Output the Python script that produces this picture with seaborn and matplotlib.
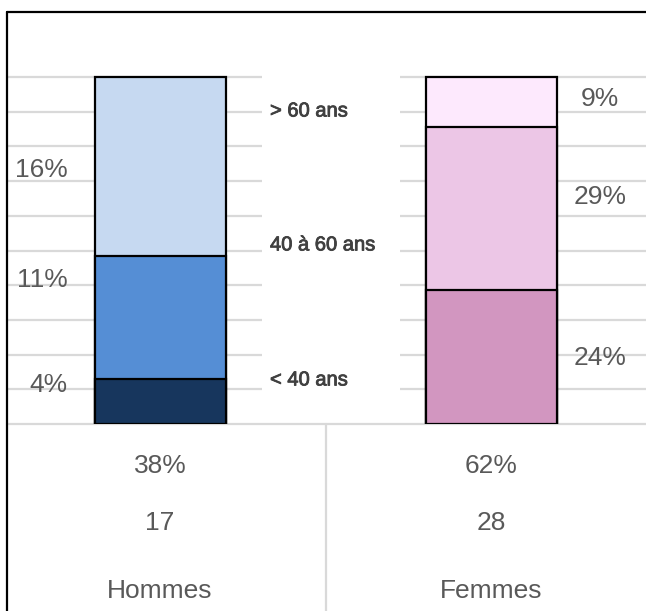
import matplotlib
matplotlib.use("Agg")
import matplotlib.pyplot as plt
import seaborn as sns
import numpy as np
import pandas as pd
from matplotlib.lines import Line2D
from matplotlib.patches import Rectangle
import matplotlib.patheffects as pe

# ---------------- data ----------------
categories = ["Hommes", "Femmes"]
age_groups = ["< 40 ans", "40 à 60 ans", "> 60 ans"]
hommes_pct = [4, 11, 16]        # bottom -> top
femmes_pct = [24, 29, 9]        # bottom -> top
total_pct = ["38%", "62%"]
counts = ["17", "28"]

colors_hommes = ["#17365D", "#558ED5", "#C6D9F1"]
colors_femmes = ["#D296C0", "#ECC6E6", "#FDE9FD"]

sns.set_theme(style="white")
plt.rcParams["font.family"] = ["Liberation Sans", "DejaVu Sans"]

W, H = 646, 611
fig = plt.figure(figsize=(W / 100, H / 100), dpi=100)

# axes geometry (pixels)
ax_left_px, ax_top_px, ax_base_px = 7, 12, 424
px_per_pct = 3.47
ax = fig.add_axes([ax_left_px / W, (H - ax_base_px) / H,
                   1 - ax_left_px / W, (ax_base_px - ax_top_px) / H])

xc0, unit = 160, 331  # pixel centre of first bar, pixels per category

# gridlines
for g in range(10, 101, 10):
    ax.axhline(g, color="#D9D9D9", lw=1.6, zorder=0)
ax.axhline(0, color="#D9D9D9", lw=1.6, zorder=0, clip_on=False)

# white gap in the middle where age labels sit
ax.add_patch(Rectangle(((262 - xc0) / unit, 1.5), (400 - 262) / unit, 100.5,
                       facecolor="white", edgecolor="none", zorder=1))

# stacked 100% bars
h = np.array(hommes_pct, float)
f = np.array(femmes_pct, float)
h_cum = np.cumsum(100 * h / h.sum())
f_cum = np.cumsum(100 * f / f.sum())

bar_w = 131 / unit
for level in [2, 1, 0]:
    df = pd.DataFrame({"cat": categories, "val": [h_cum[level], f_cum[level]]})
    sns.barplot(data=df, x="cat", y="val", hue="cat",
                palette=[colors_hommes[level], colors_femmes[level]],
                legend=False, width=bar_w, edgecolor="black", linewidth=1.6,
                ax=ax, zorder=2, saturation=1)

ax.set_xlim((ax_left_px - xc0) / unit, (W - xc0) / unit)
ax.set_ylim(0, (ax_base_px - ax_top_px) / px_per_pct)
ax.set_xlabel("")
ax.set_ylabel("")
ax.set_xticks([])
ax.set_yticks([])
for s in ax.spines.values():
    s.set_visible(False)

txt = "#595959"
# left labels (Hommes)
left_y = [11.2, 41.5, 73.2]
for v, y in zip(hommes_pct, left_y):
    ax.text((68 - xc0) / unit, y, f"{v}%", ha="right", va="center",
            fontsize=19, color=txt, zorder=5)
# right labels (Femmes)
right_y = [19.0, 65.4, 93.7]
for v, y in zip(femmes_pct, right_y):
    ax.text((600 - xc0) / unit, y, f"{v}%", ha="center", va="center",
            fontsize=19, color=txt, zorder=5)
# age group labels
mid_y = [12.7, 51.6, 90.2]
for lab, y in zip(age_groups, mid_y):
    ax.text((270 - xc0) / unit, y, lab, ha="left", va="center",
            fontsize=14.5, color="#404040", zorder=5,
            path_effects=[pe.withStroke(linewidth=0.6, foreground="#404040")])

# table below
ax.add_line(Line2D([0.5, 0.5], [0, -(H - ax_base_px) / px_per_pct],
                   color="#D9D9D9", lw=1.6, clip_on=False))
rows_px = [466, 523, 591]
for i, cat in enumerate(categories):
    vals = [total_pct[i], counts[i], cat]
    for v, ypx in zip(vals, rows_px):
        ax.text(i, (ax_base_px - ypx) / px_per_pct, v, ha="center", va="center",
                fontsize=19, color=txt, clip_on=False)

# outer border (left and top)
fig.add_artist(Line2D([ax_left_px / W, ax_left_px / W], [0, (H - ax_top_px) / H],
                      color="black", lw=1.6, transform=fig.transFigure))
fig.add_artist(Line2D([ax_left_px / W, 1], [(H - ax_top_px) / H, (H - ax_top_px) / H],
                      color="black", lw=1.6, transform=fig.transFigure))

fig.savefig("out.png", dpi=100, facecolor="white")
